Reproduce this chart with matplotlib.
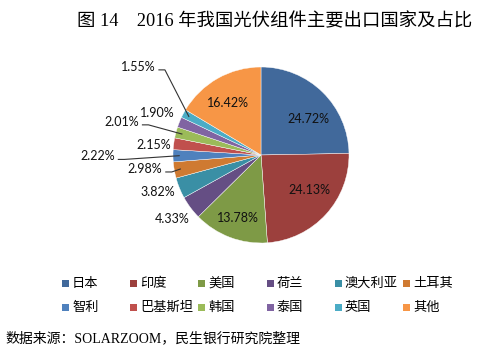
import numpy as np
import matplotlib
matplotlib.use("Agg")
import matplotlib.pyplot as plt
from matplotlib.patches import Rectangle

plt.rcParams['font.family'] = ['Noto Sans CJK SC', 'DejaVu Sans']

# data
countries = ['日本', '印度', '美国', '荷兰', '澳大利亚', '土耳其',
             '智利', '巴基斯坦', '韩国', '泰国', '英国', '其他']
shares = [24.72, 24.13, 13.78, 4.33, 3.82, 2.98, 2.22, 2.15, 2.01, 1.90, 1.55, 16.42]
colors = ['#41699B', '#9C403D', '#7E9A46', '#654E84', '#3A8FA5', '#CF7A31',
          '#4F81BD', '#C0504D', '#9BBB59', '#8064A2', '#4BACC6', '#F79646']

# label placement (radius factor, angle tweak in deg, leader line?)
label_r = [0.68, 0.68, 0.76, 1.25, 1.25, 1.33, 1.86, 1.23, 1.63, 1.27, 1.72, 0.70]
label_da = [-8, 7, 0, -1, -2.5, -3, 0, 2, 1.5, 0, -7.5, 2.5]
leader = [False, False, False, False, False, True, True, False, True, False, True, False]

W, H = 480, 352
fig = plt.figure(figsize=(4.8, 3.52), dpi=100)
ax = fig.add_axes([0, 0, 1, 1])

cx, cy, R = 261, H - 155, 88
wedges, _ = ax.pie(shares, colors=colors, startangle=90, counterclock=False,
                   center=(cx, cy), radius=R, frame=True,
                   wedgeprops=dict(edgecolor='white', linewidth=0.3))
ax.set_xlim(0, W)
ax.set_ylim(0, H)
ax.axis('off')

lblfont = ['Lato', 'DejaVu Sans']
for i, w in enumerate(wedges):
    mid = (w.theta1 + w.theta2) / 2
    a = np.deg2rad(mid + label_da[i])
    tx = cx + label_r[i] * R * np.cos(a)
    ty = cy + label_r[i] * R * np.sin(a)
    ax.text(tx, ty, f'{shares[i]:.2f}%', ha='center', va='center',
            fontsize=9, family=lblfont, color='#111111')
    if leader[i]:
        m = np.deg2rad(mid)
        ex = cx + 0.93 * R * np.cos(m)
        ey = cy + 0.93 * R * np.sin(m)
        sx = tx + 21
        sy = ty - 3
        ax.plot([sx, sx + 6, ex], [sy, sy, ey], color='#333333', lw=0.8)

# title
fig.text(472 / W, 1 - 22 / H, '图 14    2016 年我国光伏组件主要出口国家及占比',
         ha='right', va='center', fontsize=13.2,
         family=['Liberation Serif', 'Noto Sans CJK SC'])

# legend
for i, name in enumerate(countries):
    col, row = i % 6, i // 6
    x = 62 + col * 68.2
    y = H - (283 + row * 24)
    ax.add_patch(Rectangle((x, y - 3.5), 7, 7, color=colors[i], lw=0))
    ax.text(x + 10, y, name, ha='left', va='center', fontsize=9.5)

# footer
fig.text(5 / W, 1 - 338 / H, '数据来源：SOLARZOOM，民生银行研究院整理',
         ha='left', va='center', fontsize=10,
         family=['Liberation Serif', 'Noto Sans CJK SC'])

fig.savefig('out.png', dpi=100)
